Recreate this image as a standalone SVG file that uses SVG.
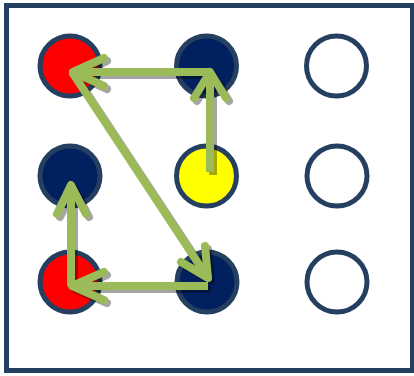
<svg xmlns="http://www.w3.org/2000/svg" width="414" height="376" viewBox="0 0 414 376">
<style>
.dot{stroke:#243F60;stroke-width:5}
.red{fill:#FF0000}.navy{fill:#002060}.yel{fill:#FFFF00}.empty{fill:#FFFFFF}
.shaft{fill:none;stroke-width:8;stroke-linecap:butt}
.head{fill:none;stroke-width:8;stroke-linecap:round;stroke-linejoin:round}
</style>
<defs>
<g id="arrows">
<path class="shaft" d="M210,172 V74"/><path class="head" d="M194,98 L210,72 L226,98"/>
<path class="shaft" d="M210,72 H76"/><path class="head" d="M104,58 L73,72 L104,86"/>
<path class="shaft" d="M72,72 L206,275"/><path class="head" d="M205,246 L208,278 L181,262"/>
<path class="shaft" d="M208,286 H76"/><path class="head" d="M104,272 L72,286 L104,300"/>
<path class="shaft" d="M71,286 V188"/><path class="head" d="M57,214 L71,185 L86,214"/>
</g>
</defs>
<rect x="0" y="0" width="414" height="376" fill="#FFFFFF"/>
<rect id="frame" x="6.5" y="5.5" width="406" height="365" fill="#FFFFFF" stroke="#243F60" stroke-width="5"/>
<g id="n11"><circle class="dot red" cx="70" cy="66" r="30"/></g>
<g id="n12"><circle class="dot navy" cx="206.5" cy="66" r="30"/></g>
<g id="n13"><circle class="dot empty" cx="336.5" cy="66" r="30"/></g>
<g id="n21"><circle class="dot navy" cx="70" cy="176" r="30"/></g>
<g id="n22"><circle class="dot yel" cx="206.5" cy="176" r="30"/></g>
<g id="n23"><circle class="dot empty" cx="337" cy="176" r="30"/></g>
<g id="n31"><circle class="dot red" cx="70" cy="282" r="30"/></g>
<g id="n32"><circle class="dot navy" cx="207" cy="282" r="30"/></g>
<g id="n33"><circle class="dot empty" cx="337" cy="282" r="30"/></g>
<g id="connectors">
<g opacity="0.35" stroke="#000000" transform="translate(3,3)"><use href="#arrows"/></g>
<g stroke="#9BBB59"><use href="#arrows"/></g>
</g>
</svg>
